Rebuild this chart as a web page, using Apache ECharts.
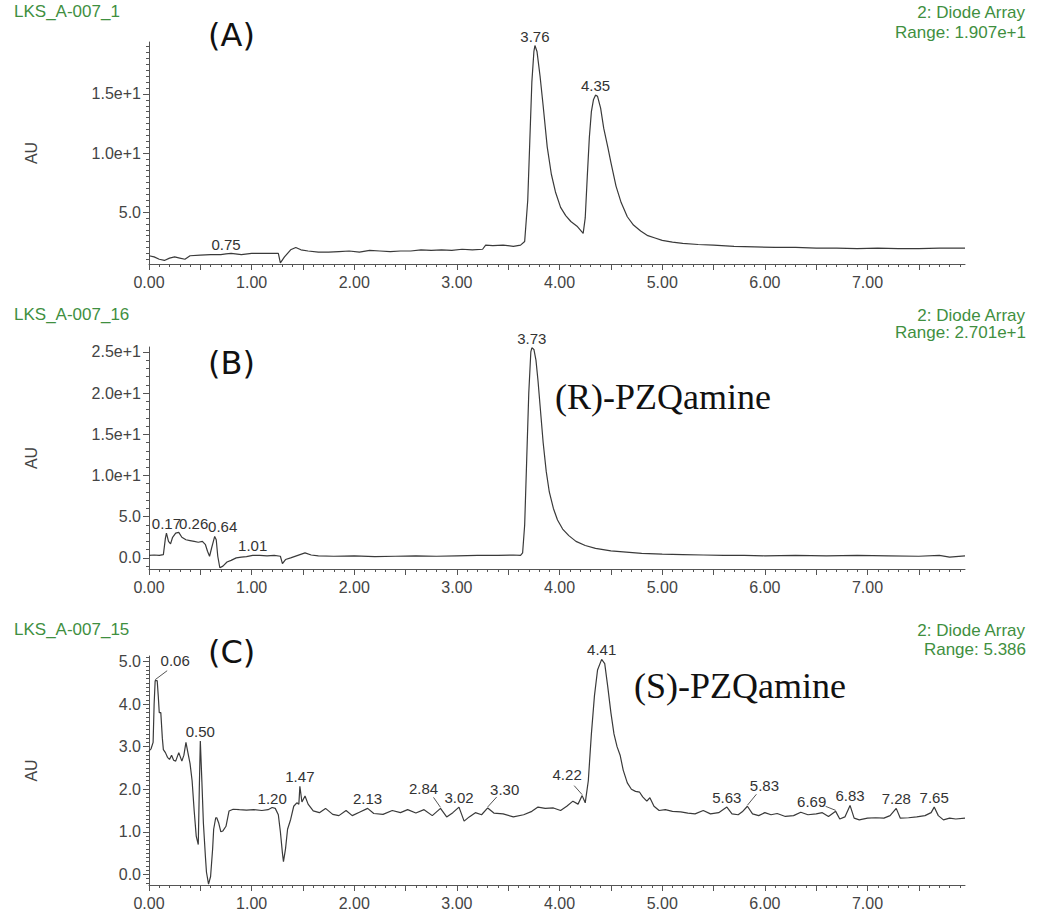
<!DOCTYPE html>
<html><head><meta charset="utf-8">
<script src="https://cdn.jsdelivr.net/npm/echarts@6/dist/echarts.min.js"></script>
<style>html,body{margin:0;padding:0;background:#fff}#c{width:1050px;height:914px}</style>
</head><body><div id="c"></div>
<script>
// ---------------- data ----------------
const sampleNames = ['LKS_A-007_1', 'LKS_A-007_16', 'LKS_A-007_15'];
const detectorName = '2: Diode Array';
const rangeLabels = ['Range: 1.907e+1', 'Range: 2.701e+1', 'Range: 5.386'];
const panelLetters = ['(A)', '(B)', '(C)'];
const compoundLabels = ['', '(R)-PZQamine', '(S)-PZQamine'];
const axisNameY = 'AU';

const xTickValues = [0, 1, 2, 3, 4, 5, 6, 7];
const xTickLabels = ['0.00', '1.00', '2.00', '3.00', '4.00', '5.00', '6.00', '7.00'];
const yTickValuesA = [5, 10, 15];
const yTickLabelsA = ['5.0', '1.0e+1', '1.5e+1'];
const yTickValuesB = [0, 5, 10, 15, 20, 25];
const yTickLabelsB = ['0.0', '5.0', '1.0e+1', '1.5e+1', '2.0e+1', '2.5e+1'];
const yTickValuesC = [0, 1, 2, 3, 4, 5];
const yTickLabelsC = ['0.0', '1.0', '2.0', '3.0', '4.0', '5.0'];

// retention time (min), absorbance (AU)
const traceA = [[0.00,1.3],[0.05,1.2],[0.10,1.0],[0.15,0.9],[0.20,1.1],[0.25,1.2],[0.30,1.1],[0.35,1.0],[0.40,1.3],[0.50,1.35],[0.60,1.4],[0.70,1.4],[0.75,1.45],[0.80,1.5],[0.90,1.4],[1.00,1.5],[1.10,1.5],[1.20,1.5],[1.26,1.5],[1.28,0.7],[1.32,1.2],[1.38,1.8],[1.43,2.0],[1.48,1.8],[1.55,1.7],[1.65,1.6],[1.75,1.6],[1.85,1.65],[1.95,1.7],[2.05,1.6],[2.15,1.75],[2.25,1.7],[2.35,1.65],[2.45,1.7],[2.55,1.7],[2.65,1.8],[2.75,1.75],[2.85,1.8],[2.95,1.75],[3.05,1.85],[3.15,1.8],[3.25,1.85],[3.28,2.2],[3.35,2.15],[3.45,2.2],[3.55,2.1],[3.62,2.2],[3.66,2.5],[3.69,6],[3.71,11],[3.73,16],[3.75,18.6],[3.76,19.1],[3.78,18.6],[3.81,16.5],[3.84,14],[3.88,10.5],[3.92,8.2],[3.96,6.7],[4.01,5.4],[4.06,4.7],[4.11,4.2],[4.17,3.8],[4.23,3.2],[4.25,4.5],[4.27,8],[4.29,11.3],[4.31,13.5],[4.33,14.5],[4.35,14.9],[4.37,14.8],[4.40,13.8],[4.43,12.1],[4.47,10.5],[4.50,9.2],[4.55,7.2],[4.60,5.8],[4.66,4.6],[4.72,3.9],[4.79,3.4],[4.86,3.0],[4.93,2.8],[5.00,2.6],[5.10,2.45],[5.20,2.35],[5.35,2.25],[5.50,2.2],[5.70,2.1],[5.90,2.05],[6.10,2.0],[6.30,2.0],[6.50,1.95],[6.70,1.95],[6.90,1.9],[7.10,1.95],[7.30,1.9],[7.50,1.9],[7.70,1.95],[7.95,1.95]];
const peaksA = [[0.75,1.45],[3.76,19.1],[4.35,14.9]];

const traceB = [[0.00,0.3],[0.05,0.35],[0.10,0.3],[0.14,0.4],[0.16,2.4],[0.17,3.0],[0.19,2.0],[0.21,1.7],[0.23,2.5],[0.26,3.0],[0.29,3.1],[0.32,2.5],[0.36,2.2],[0.40,2.1],[0.44,2.0],[0.48,1.9],[0.52,2.0],[0.55,1.6],[0.57,0.8],[0.59,0.2],[0.61,1.2],[0.64,2.6],[0.655,2.2],[0.67,0.2],[0.69,-1.2],[0.72,-1.0],[0.76,-0.5],[0.80,-0.3],[0.85,0.0],[0.90,0.1],[0.95,0.15],[1.01,0.3],[1.08,0.3],[1.15,0.25],[1.22,0.3],[1.28,0.2],[1.30,-0.7],[1.33,-0.2],[1.38,0.0],[1.45,0.3],[1.52,0.6],[1.58,0.35],[1.65,0.25],[1.80,0.2],[2.00,0.25],[2.20,0.15],[2.40,0.2],[2.60,0.25],[2.80,0.2],[3.00,0.25],[3.20,0.3],[3.40,0.3],[3.55,0.35],[3.62,0.3],[3.64,0.6],[3.66,4],[3.68,12],[3.70,20],[3.72,25],[3.73,25.5],[3.75,25.3],[3.77,24.0],[3.79,21.5],[3.81,18.5],[3.84,14],[3.87,10.5],[3.90,8],[3.94,6],[3.98,4.6],[4.03,3.5],[4.09,2.7],[4.16,2.0],[4.25,1.5],[4.35,1.15],[4.50,0.85],[4.65,0.7],[4.80,0.55],[5.00,0.45],[5.20,0.4],[5.40,0.35],[5.60,0.3],[5.80,0.3],[6.00,0.25],[6.30,0.3],[6.60,0.25],[6.90,0.3],[7.20,0.25],[7.50,0.2],[7.70,0.3],[7.80,0.1],[7.95,0.25]];
const peaksB = [[0.17,3.0],[0.26,3.0],[0.64,2.6],[1.01,0.3],[3.73,25.5]];

const traceC = [[0.00,2.9],[0.02,2.95],[0.04,3.1],[0.05,4.0],[0.06,4.55],[0.08,4.55],[0.09,4.2],[0.10,3.8],[0.115,3.8],[0.13,3.2],[0.14,2.93],[0.16,2.86],[0.18,2.75],[0.20,2.7],[0.22,2.8],[0.24,2.68],[0.26,2.66],[0.29,2.86],[0.32,2.66],[0.34,2.8],[0.36,3.1],[0.38,2.85],[0.40,2.6],[0.42,2.2],[0.44,1.5],[0.46,0.9],[0.48,0.7],[0.49,2.0],[0.50,3.13],[0.515,2.2],[0.53,1.2],[0.55,0.4],[0.56,0.05],[0.58,-0.23],[0.60,-0.05],[0.62,0.6],[0.63,1.06],[0.65,1.33],[0.66,1.33],[0.68,1.2],[0.70,1.0],[0.72,1.02],[0.75,1.13],[0.78,1.49],[0.82,1.53],[0.88,1.52],[0.95,1.51],[1.02,1.52],[1.10,1.5],[1.16,1.52],[1.20,1.57],[1.23,1.55],[1.26,1.4],[1.28,1.0],[1.30,0.5],[1.31,0.3],[1.33,0.6],[1.35,1.06],[1.38,1.29],[1.41,1.6],[1.44,1.68],[1.46,1.65],[1.47,2.07],[1.49,1.7],[1.52,1.84],[1.55,1.65],[1.60,1.49],[1.66,1.45],[1.72,1.55],[1.79,1.41],[1.85,1.38],[1.92,1.5],[1.98,1.38],[2.05,1.46],[2.13,1.55],[2.19,1.43],[2.28,1.41],[2.37,1.5],[2.45,1.45],[2.52,1.52],[2.60,1.44],[2.68,1.52],[2.76,1.38],[2.84,1.55],[2.90,1.35],[2.96,1.45],[3.02,1.58],[3.07,1.25],[3.12,1.35],[3.18,1.45],[3.24,1.40],[3.30,1.56],[3.36,1.44],[3.45,1.42],[3.55,1.35],[3.65,1.4],[3.73,1.48],[3.79,1.58],[3.86,1.55],[3.94,1.56],[4.01,1.5],[4.07,1.6],[4.13,1.72],[4.18,1.65],[4.22,1.85],[4.25,1.68],[4.28,2.2],[4.31,3.3],[4.34,4.2],[4.37,4.8],[4.41,5.05],[4.44,4.95],[4.47,4.4],[4.50,3.8],[4.53,3.3],[4.56,3.0],[4.59,2.8],[4.62,2.45],[4.66,2.15],[4.70,2.0],[4.74,1.95],[4.78,1.93],[4.81,1.82],[4.85,1.72],[4.88,1.8],[4.92,1.6],[4.97,1.5],[5.03,1.52],[5.10,1.48],[5.18,1.47],[5.25,1.44],[5.32,1.42],[5.40,1.5],[5.47,1.42],[5.55,1.45],[5.63,1.58],[5.68,1.42],[5.74,1.4],[5.78,1.47],[5.83,1.6],[5.88,1.42],[5.94,1.38],[6.00,1.45],[6.06,1.4],[6.12,1.43],[6.20,1.36],[6.28,1.38],[6.35,1.46],[6.42,1.4],[6.50,1.42],[6.56,1.45],[6.62,1.36],[6.69,1.48],[6.73,1.3],[6.78,1.35],[6.83,1.62],[6.87,1.32],[6.92,1.28],[7.00,1.32],[7.08,1.33],[7.16,1.32],[7.22,1.38],[7.28,1.55],[7.32,1.32],[7.40,1.33],[7.48,1.35],[7.56,1.38],[7.62,1.45],[7.65,1.58],[7.69,1.38],[7.74,1.28],[7.80,1.32],[7.86,1.30],[7.95,1.32]];
const peaksC = [[0.06,4.55],[0.50,3.13],[1.20,1.57],[1.47,2.07],[2.13,1.55],[2.84,1.55],[3.02,1.58],[3.30,1.56],[4.22,1.85],[4.41,5.05],[5.63,1.58],[5.83,1.6],[6.69,1.48],[6.83,1.62],[7.28,1.55],[7.65,1.58]];

// ---------------- layout / style ----------------
const GREEN = '#3f8f3f', AXIS = '#555', TEXT = '#444', LINE = '#3a3a3a';
const SANS = '"Liberation Sans", Arial, sans-serif';
const GRID_LEFT = 149, GRID_RIGHT = 85;
const X_MAX = 7.95;
const panels = [
  {trace: traceA, peaks: peaksA, yMin: 0.6, yMax: 19.4, top: 42, height: 222, yTicks: yTickValuesA, yLabels: yTickLabelsA, yMinorStep: 0.5},
  {trace: traceB, peaks: peaksB, yMin: -1.35, yMax: 25.6, top: 347, height: 222, yTicks: yTickValuesB, yLabels: yTickLabelsB, yMinorStep: 1},
  {trace: traceC, peaks: peaksC, yMin: -0.25, yMax: 5.13, top: 656, height: 229, yTicks: yTickValuesC, yLabels: yTickLabelsC, yMinorStep: 0.1}
];
// label placement: text centre offset (tx) and text bottom offset (ty) from apex; optional leader line end (lx, ly)
const labelPlacement = {
  '1:0.26': {tx: 18, ty: -2},
  '1:0.64': {tx: 8, ty: -2},
  '2:0.06': {tx: 20, ty: -13, lx: 12, ly: -10},
  '2:2.84': {tx: -17, ty: -12, lx: -7, ly: -11},
  '2:3.30': {tx: 17, ty: -11, lx: 9, ly: -11},
  '2:4.22': {tx: -15, ty: -14, lx: -8, ly: -10},
  '2:5.83': {tx: 17, ty: -13, lx: 9, ly: -12},
  '2:6.69': {tx: -24, ty: -2, lx: -10, ly: -5}
};

function steps(a, b, s) {
  const out = [];
  for (let k = Math.ceil(a / s - 1e-9); k * s <= b + 1e-9; k++) out.push(Math.round(k * s * 1000) / 1000);
  return out;
}

const grid = [], xAxis = [], yAxis = [], series = [], graphic = [];
panels.forEach((p, i) => {
  grid.push({left: GRID_LEFT, right: GRID_RIGHT, top: p.top, height: p.height});
  xAxis.push({
    type: 'value', gridIndex: i, position: 'bottom', min: 0, max: X_MAX,
    axisLine: {show: true, onZero: false, lineStyle: {color: AXIS, width: 1}},
    axisTick: {show: true, customValues: steps(0, X_MAX, 0.5), length: 6, lineStyle: {color: AXIS}},
    axisLabel: {customValues: xTickValues, margin: 10, color: TEXT, fontSize: 16, fontFamily: SANS,
      formatter: v => { const k = xTickValues.indexOf(Math.round(v)); return k >= 0 && Math.abs(v - Math.round(v)) < 1e-6 ? xTickLabels[k] : ''; }},
    splitLine: {show: false}
  });
  xAxis.push({
    type: 'value', gridIndex: i, position: 'bottom', min: 0, max: X_MAX,
    axisLine: {show: false, onZero: false}, axisLabel: {show: false}, splitLine: {show: false},
    axisTick: {show: true, customValues: steps(0, X_MAX, 0.1), length: 3, lineStyle: {color: AXIS}}
  });
  yAxis.push({
    type: 'value', gridIndex: i, position: 'left', min: p.yMin, max: p.yMax,
    name: axisNameY, nameLocation: 'middle', nameRotate: 90, nameGap: 110,
    nameTextStyle: {color: TEXT, fontSize: 16, fontFamily: SANS},
    axisLine: {show: true, onZero: false, lineStyle: {color: AXIS, width: 1}},
    axisTick: {show: true, customValues: p.yTicks, length: 6, lineStyle: {color: AXIS}},
    axisLabel: {customValues: p.yTicks, margin: 8, color: TEXT, fontSize: 16, fontFamily: SANS,
      formatter: v => { const k = p.yTicks.findIndex(t => Math.abs(t - v) < 1e-6); return k >= 0 ? p.yLabels[k] : ''; }},
    splitLine: {show: false}
  });
  yAxis.push({
    type: 'value', gridIndex: i, position: 'left', min: p.yMin, max: p.yMax,
    axisLine: {show: false, onZero: false}, axisLabel: {show: false}, splitLine: {show: false},
    axisTick: {show: true, customValues: steps(p.yMin, p.yMax, p.yMinorStep), length: 3, lineStyle: {color: AXIS}}
  });
  series.push({
    type: 'line', xAxisIndex: 2 * i, yAxisIndex: 2 * i, data: p.trace,
    showSymbol: false, symbol: 'none', smooth: false, silent: true,
    lineStyle: {color: LINE, width: 1.2}, animation: false
  });
  series.push({
    type: 'custom', xAxisIndex: 2 * i, yAxisIndex: 2 * i, data: p.peaks, silent: true, animation: false, z: 5,
    renderItem: (params, api) => {
      const t = api.value(0), h = api.value(1);
      const pt = api.coord([t, h]);
      const txt = t.toFixed(2);
      const o = labelPlacement[i + ':' + txt] || {tx: 0, ty: -2};
      const children = [];
      if (o.lx !== undefined) {
        children.push({type: 'line', shape: {x1: pt[0], y1: pt[1] - 1, x2: pt[0] + o.lx, y2: pt[1] + o.ly},
          style: {stroke: '#555', lineWidth: 1}});
      }
      children.push({type: 'text', style: {text: txt, x: pt[0] + o.tx, y: pt[1] + o.ty,
        textAlign: 'center', textVerticalAlign: 'bottom', align: 'center', verticalAlign: 'bottom',
        fill: '#333', fontSize: 15, fontFamily: SANS}});
      return {type: 'group', children};
    }
  });
});

const titleTops = [3, 306, 621];
const rangeTops = [24, 324, 641];
const letterTops = [19, 347, 636];
titleTops.forEach((t, i) => {
  graphic.push({type: 'text', left: 14, top: t, style: {text: sampleNames[i], fill: GREEN, fontSize: 17, fontFamily: SANS}});
  graphic.push({type: 'text', right: 24, top: t + 1, style: {text: detectorName, fill: GREEN, fontSize: 17, fontFamily: SANS}});
  graphic.push({type: 'text', right: 24, top: rangeTops[i], style: {text: rangeLabels[i], fill: GREEN, fontSize: 17, fontFamily: SANS}});
  graphic.push({type: 'text', left: 208, top: letterTops[i], style: {text: panelLetters[i], fill: '#111', fontSize: 32, fontFamily: '"DejaVu Sans", sans-serif'}});
});
graphic.push({type: 'text', left: 555, top: 379, style: {text: compoundLabels[1], fill: '#111', fontSize: 36, fontFamily: '"Liberation Serif", "Times New Roman", serif'}});
graphic.push({type: 'text', left: 634, top: 668, style: {text: compoundLabels[2], fill: '#111', fontSize: 36, fontFamily: '"Liberation Serif", "Times New Roman", serif'}});

const chart = echarts.init(document.getElementById('c'), null, {renderer: 'svg'});
chart.setOption({backgroundColor: '#fff', animation: false, grid, xAxis, yAxis, series, graphic});
</script>
</body></html>
